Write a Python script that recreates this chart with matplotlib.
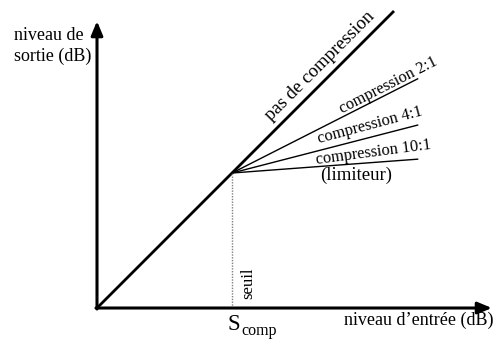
import matplotlib
matplotlib.use("Agg")
import matplotlib.pyplot as plt

plt.rcParams['font.family'] = ['Liberation Serif', 'DejaVu Serif']

# input / output levels (dB)
s_comp = 40                      # threshold
no_comp_end = 88                 # end of the 1:1 line
comp_end_x = 95                  # end input level of the compressed lines
comp_labels = ['compression 2:1', 'compression 4:1', 'compression 10:1']
comp_end_y = [67.9, 54.2, 44.1]  # output level at comp_end_x
x_axis_end = 117
y_axis_end = 85

fig = plt.figure(figsize=(4.93, 3.42), dpi=100)
ax = fig.add_axes([0, 0, 1, 1])
ax.set_xlim(-28.74, 117.33)
ax.set_ylim(-10.07, 91.26)
ax.axis('off')

# axes with arrows
arrow = dict(arrowstyle='-|>,head_length=0.6,head_width=0.25', color='black',
             lw=2.2, mutation_scale=14, shrinkA=0, shrinkB=0)
ax.annotate('', xy=(x_axis_end, 0), xytext=(-0.3, 0), arrowprops=arrow)
ax.annotate('', xy=(0, y_axis_end), xytext=(0, -0.3), arrowprops=arrow)

# no compression
ax.plot([0, no_comp_end], [0, no_comp_end], color='black', lw=2.0,
        solid_capstyle='butt')

# compressed lines
for lab, ye in zip(comp_labels, comp_end_y):
    ax.plot([s_comp, comp_end_x], [s_comp, ye], color='black', lw=1.0)

# threshold
ax.plot([s_comp, s_comp], [0, s_comp], color='gray', lw=1.0, ls=(0, (1, 1)))

# texts
ax.text(-24.5, 83.2, 'niveau de\nsortie (dB)', fontsize=13, ha='left', va='top',
        linespacing=1.3)
ax.text(95.3, -3.6, "niveau d\u2019entrée (dB)", fontsize=13, ha='center',
        va='center')
ax.text(40.6, -4.9, 'S', fontsize=16.5, ha='center', va='center')
ax.text(42.9, -6.9, 'comp', fontsize=11.5, ha='left', va='center')
ax.text(44.8, 7.4, 'seuil', fontsize=12, rotation=90, ha='center',
        va='center')
ax.text(66.2, 71.8, 'pas de compression', fontsize=13.5, rotation=45,
        ha='center', va='center', rotation_mode='anchor')

label_pos = [(86.2, 66.1, 27.0), (80.9, 54.0, 15.0), (81.8, 46.2, 7.5)]
for lab, (tx, ty, rot) in zip(comp_labels, label_pos):
    ax.text(tx, ty, lab, fontsize=11.8, rotation=rot, ha='center', va='center',
            rotation_mode='anchor')
ax.text(76.7, 39.3, '(limiteur)', fontsize=13.5, ha='center', va='center')

fig.savefig('out.png', dpi=100)
